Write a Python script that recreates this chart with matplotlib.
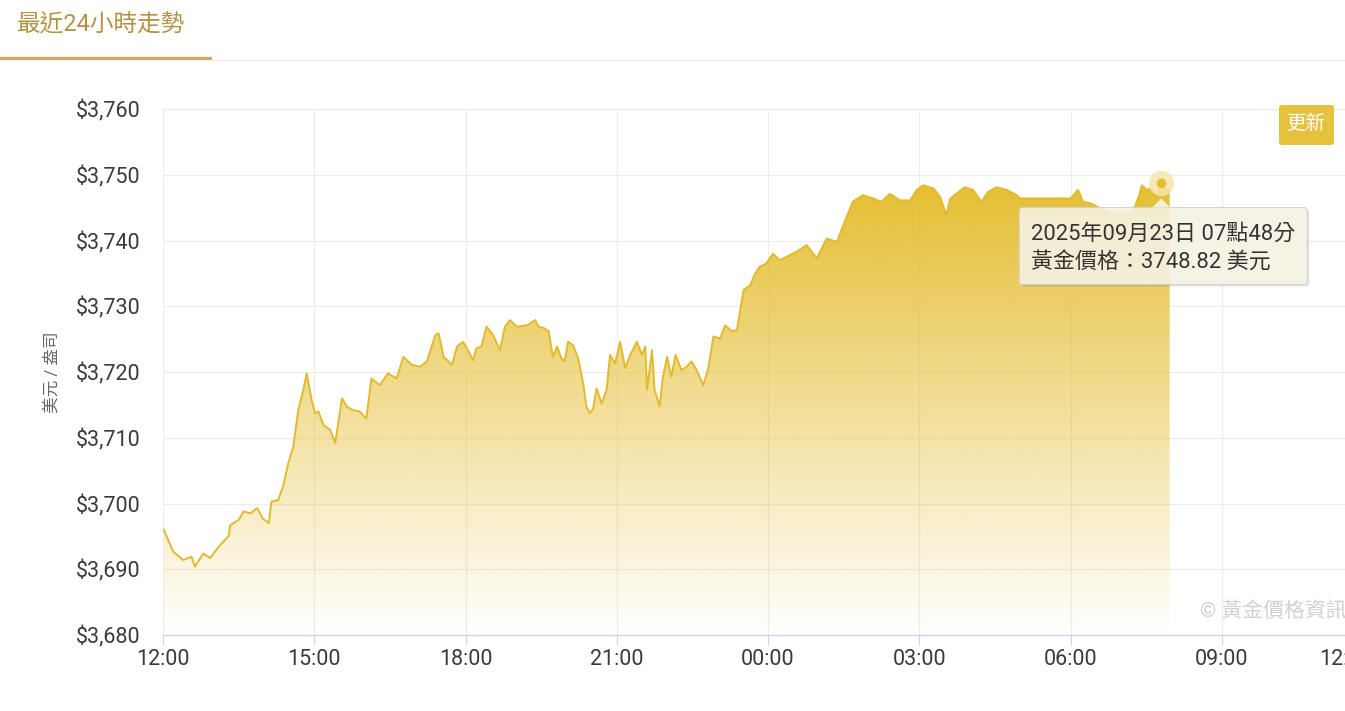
#!/usr/bin/env python3
import matplotlib

matplotlib.use("Agg")
import matplotlib.pyplot as plt
import numpy as np
from matplotlib.patches import FancyBboxPatch, Polygon
from matplotlib.lines import Line2D
from matplotlib.colors import to_rgb
from matplotlib.transforms import IdentityTransform

# minutes after 12:00 (22 Sep) and gold price in USD / oz
minutes = [1, 12, 24, 34, 38, 48, 56, 68, 78, 80, 90, 96, 104, 112, 119, 126, 129,
           137, 143, 149, 155, 161, 167, 171, 177, 181, 185, 191, 199, 205, 213, 219,
           226, 234, 242, 248, 258, 268, 278, 286, 296, 306, 314, 324, 328, 334, 344,
           350, 357, 363, 369, 373, 379, 385, 393, 401, 407, 413, 421, 433, 443, 447,
           453, 459, 464, 469, 474, 478, 482, 488, 494, 500, 504, 508, 512, 516, 522,
           528, 532, 538, 544, 550, 556, 564, 570, 574, 576, 582, 585, 591, 595, 600,
           605, 610, 617, 623, 629, 635, 643, 649, 655, 663, 669, 677, 683, 687, 691,
           699, 704, 710, 718, 726, 734, 742, 754, 766, 778, 790, 802, 812, 821, 833,
           845, 855, 865, 877, 889, 897, 905, 917, 925, 932, 937, 944, 954, 964, 974,
           982, 992, 1004, 1016, 1020, 1080, 1089, 1095, 1105, 1121, 1139, 1154, 1161,
           1165, 1171, 1177, 1182, 1188, 1194, 1198]
prices = [3696.0, 3692.7, 3691.4, 3691.9, 3690.4, 3692.4, 3691.7, 3693.7, 3695.0,
          3696.7, 3697.5, 3698.8, 3698.5, 3699.3, 3697.7, 3697.0, 3700.3, 3700.5,
          3702.6, 3706.1, 3708.6, 3714.2, 3717.3, 3719.8, 3715.7, 3713.7, 3714.0,
          3711.9, 3711.2, 3709.2, 3716.0, 3714.7, 3714.2, 3714.0, 3712.9, 3719.0,
          3718.0, 3719.8, 3719.0, 3722.3, 3721.1, 3720.8, 3721.6, 3725.6, 3725.9,
          3722.3, 3721.1, 3723.9, 3724.6, 3723.3, 3721.8, 3723.6, 3723.9, 3726.9,
          3725.6, 3723.3, 3726.9, 3727.9, 3726.9, 3727.1, 3727.9, 3726.9, 3726.7,
          3726.2, 3722.3, 3723.9, 3722.1, 3721.6, 3724.6, 3724.1, 3722.1, 3718.3,
          3714.7, 3713.7, 3714.5, 3717.5, 3715.2, 3717.3, 3722.6, 3721.3, 3724.6,
          3720.6, 3722.6, 3724.6, 3722.6, 3723.9, 3717.3, 3723.3, 3717.3, 3714.8,
          3719.3, 3722.3, 3719.3, 3722.6, 3720.3, 3720.8, 3721.6, 3720.3, 3718.0,
          3720.6, 3725.4, 3725.1, 3727.1, 3726.2, 3726.4, 3729.4, 3732.5, 3733.2,
          3734.8, 3736.0, 3736.5, 3738.0, 3737.0, 3737.5, 3738.3, 3739.3, 3737.3,
          3740.3, 3739.8, 3743.1, 3745.9, 3746.9, 3746.4, 3745.9, 3747.1, 3746.1,
          3746.1, 3747.7, 3748.4, 3747.9, 3746.6, 3743.9, 3746.4, 3747.1, 3748.1,
          3747.7, 3745.9, 3747.4, 3748.1, 3747.7, 3746.9, 3746.4, 3746.4, 3747.7,
          3745.9, 3745.6, 3744.5, 3744.0, 3744.3, 3746.6, 3748.4, 3747.7, 3748.0,
          3746.6, 3748.82, 3747.6, 3748.0]

x_ticks = [0, 180, 360, 540, 720, 900, 1080, 1260, 1440]
x_tick_labels = ["12:00", "15:00", "18:00", "21:00", "00:00", "03:00", "06:00",
                 "09:00", "12:00"]
y_ticks = [3680, 3690, 3700, 3710, 3720, 3730, 3740, 3750, 3760]

hover_minute = 1188
hover_price = 3748.82
tooltip_lines = ["2025年09月23日 07點48分", "黃金價格：3748.82 美元"]

plt.rcParams["font.family"] = ["Roboto", "Noto Sans CJK TC", "DejaVu Sans"]

W, H = 1345, 711
fig = plt.figure(figsize=(W / 100, H / 100), dpi=100)


def fx(x):
    return x / W


def fy(y):
    return 1 - y / H


gold = "#e5bd2e"
line_col = "#e3ba2e"
grid_col = "#ececec"
axis_col = "#ccd6eb"

# header tab
fig.text(fx(17), fy(25), "最近24小時走勢", fontsize=17, color="#b39342",
         va="center", ha="left")
fig.add_artist(Line2D([fx(0), fx(210)], [fy(58), fy(58)], color="#c9ab6c", lw=2.4))
fig.add_artist(Line2D([fx(210), fx(W)], [fy(59.5), fy(59.5)], color="#ececec", lw=0.9))

# plot area (right end sits past the figure edge, like the cropped screenshot)
ax = fig.add_axes([fx(163), fy(635), (1373 - 163) / W, (635 - 109) / H])
ax.set_xlim(0, 1440)
ax.set_ylim(3680, 3760)

# gradient fill clipped to the area under the curve
verts = [(minutes[0], 3680)] + list(zip(minutes, prices)) + [(minutes[-1], 3680)]
clip = Polygon(verts, closed=True, facecolor="none", edgecolor="none")
ax.add_patch(clip)
n = 300
rgba = np.zeros((n, 2, 4))
rgba[..., :3] = to_rgb(gold)
rgba[..., 3] = np.linspace(0.0, 1.0, n)[:, None]
im = ax.imshow(rgba, extent=[minutes[0], minutes[-1], 3680, 3750], origin="lower",
               aspect="auto", interpolation="bilinear", zorder=1)
im.set_clip_path(clip)

ax.plot(minutes, prices, color=line_col, lw=1.4, zorder=3, solid_joinstyle="round")

# hover marker
ax.scatter([hover_minute], [hover_price], s=330, color="#f4e7ad", alpha=0.85,
           zorder=4, linewidths=0)
ax.scatter([hover_minute], [hover_price], s=50, color="#e5bc33", zorder=5,
           linewidths=0)

ax.set_xlim(0, 1440)
ax.set_ylim(3680, 3760)

ax.set_xticks(x_ticks)
ax.set_xticklabels(x_tick_labels)
ax.set_yticks(y_ticks)
ax.set_yticklabels([f"${v:,}" for v in y_ticks])
ax.get_xticklabels()[-1].set_ha("right")

ax.tick_params(axis="x", length=7, width=0.8, color=axis_col, labelsize=15.5,
               labelcolor="#3a3a3a", pad=3)
ax.tick_params(axis="y", length=0, labelsize=15.5, labelcolor="#3a3a3a", pad=16)

ax.grid(True, color=grid_col, lw=0.8)
ax.set_axisbelow(True)
for s in ["top", "right", "left"]:
    ax.spines[s].set_visible(False)
ax.spines["bottom"].set_color(axis_col)
ax.spines["bottom"].set_linewidth(1.0)

fig.text(fx(52), fy(372), "美元 / 盎司", rotation=90, fontsize=12, color="#666666",
         ha="center", va="center")

# watermark
fig.text(fx(1200), fy(611), "© 黃金價格資訊", fontsize=15, color="#d2d2d2",
         ha="left", va="center")

# refresh button
fig.add_artist(FancyBboxPatch((1279, H - 145), 55, 40,
                              boxstyle="round,pad=0,rounding_size=3",
                              transform=IdentityTransform(), facecolor="#e6c13e",
                              edgecolor="none"))
fig.text(fx(1306), fy(124), "更新", fontsize=14, color="white", ha="center",
         va="center")

# tooltip anchored to the hovered point
fig.canvas.draw()
px, py = ax.transData.transform((hover_minute, hover_price))
box_l, box_r = px - 142, px + 146
box_t, box_b = py - 25, py - 102
ident = IdentityTransform()
fig.add_artist(FancyBboxPatch((box_l + 2, box_b - 2), box_r - box_l, box_t - box_b,
                              boxstyle="round,pad=0,rounding_size=3", transform=ident,
                              facecolor="#000000", alpha=0.10, edgecolor="none"))
fig.add_artist(FancyBboxPatch((box_l, box_b), box_r - box_l, box_t - box_b,
                              boxstyle="round,pad=0,rounding_size=3", transform=ident,
                              facecolor="#f8f4e4", alpha=0.9, edgecolor="#cfcfcf",
                              lw=0.8))
fig.add_artist(Polygon([(px - 9, box_t), (px, box_t + 9), (px + 9, box_t)],
                       closed=True, transform=ident, facecolor="#f8f4e4",
                       alpha=0.9, edgecolor="none"))
fig.text(fx(box_l + 12), fy(H - box_t + 27), tooltip_lines[0], fontsize=15.8,
         color="#333333", ha="left", va="center")
fig.text(fx(box_l + 12), fy(H - box_t + 56), tooltip_lines[1], fontsize=15.8,
         color="#333333", ha="left", va="center")

fig.savefig("out.png", dpi=100)
plt.close(fig)
